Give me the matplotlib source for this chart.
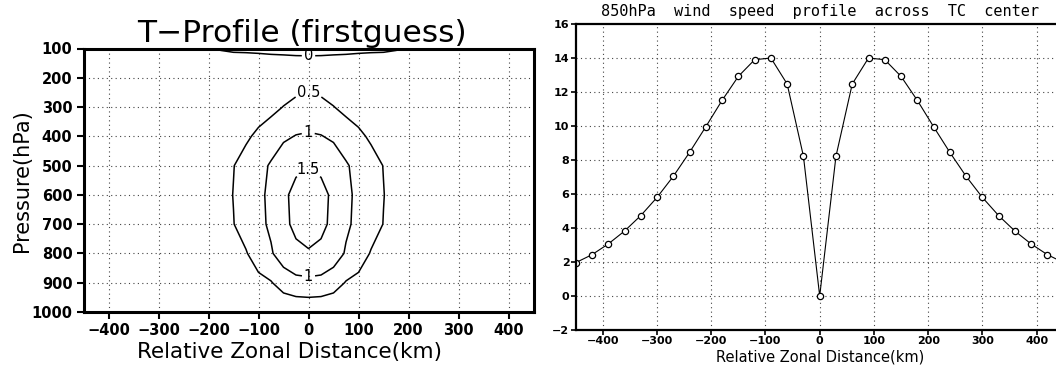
import numpy as np
import matplotlib.pyplot as plt

# --- temperature anomaly cross-section (first guess), symmetric about x=0 ---
half_dist = [0, 25, 50, 75, 100, 125, 150, 175, 200, 300, 450]   # km
levels_p = [100, 200, 300, 400, 500, 600, 700, 800, 900, 1000]   # hPa
t_x0 = [-0.10, 0.30, 0.70, 1.05, 1.47, 1.70, 1.65, 1.47, 0.88, 0.12]
t_x25 = [-0.09, 0.28, 0.62, 1.02, 1.42, 1.62, 1.58, 1.42, 0.85, 0.11]
t_x50 = [-0.07, 0.25, 0.51, 0.92, 1.30, 1.42, 1.42, 1.25, 0.72, 0.09]
t_x75 = [-0.05, 0.20, 0.40, 0.70, 1.06, 1.12, 1.08, 0.95, 0.47, 0.07]
t_x100 = [-0.03, 0.15, 0.32, 0.58, 0.82, 0.88, 0.88, 0.72, 0.38, 0.05]
t_x125 = [-0.02, 0.12, 0.25, 0.44, 0.65, 0.70, 0.68, 0.47, 0.25, 0.04]
t_x150 = [-0.015, 0.10, 0.20, 0.33, 0.49, 0.51, 0.49, 0.38, 0.18, 0.03]
t_x175 = [-0.005, 0.07, 0.15, 0.24, 0.33, 0.36, 0.34, 0.26, 0.13, 0.025]
t_x200 = [0.003, 0.05, 0.12, 0.18, 0.22, 0.24, 0.22, 0.16, 0.08, 0.02]
t_x300 = [0.01, 0.02, 0.04, 0.06, 0.07, 0.07, 0.07, 0.05, 0.03, 0.01]
t_x450 = [0.005, 0.01, 0.02, 0.02, 0.03, 0.03, 0.03, 0.02, 0.01, 0.005]
contour_levels = [0, 0.5, 1, 1.5]

# --- 850 hPa wind speed across the TC center ---
dist = [-450, -420, -390, -360, -330, -300, -270, -240, -210, -180, -150,
        -120, -90, -60, -30, 0, 30, 60, 90, 120, 150, 180, 210, 240, 270,
        300, 330, 360, 390, 420, 450]
wspd = [1.96, 2.43, 3.06, 3.82, 4.73, 5.80, 7.04, 8.45, 9.96, 11.51, 12.92,
        13.90, 14.00, 12.47, 8.22, 0.0, 8.22, 12.47, 14.00, 13.90, 12.92,
        11.51, 9.96, 8.45, 7.04, 5.80, 4.73, 3.82, 3.06, 2.43, 1.96]

xticks = [-400, -300, -200, -100, 0, 100, 200, 300, 400]
wticks = list(range(-2, 17, 2))


def minus(vals):
    return [str(v).replace('-', '\u2212') for v in vals]


# build full grid by mirroring the half section
half = np.array([t_x0, t_x25, t_x50, t_x75, t_x100, t_x125, t_x150,
                 t_x175, t_x200, t_x300, t_x450]).T
xs = np.array(half_dist)
xgrid = np.concatenate([-xs[:0:-1], xs])
tgrid = np.concatenate([half[:, :0:-1], half], axis=1)

dot_grid = dict(color='#444444', linestyle=(0, (1, 3)), linewidth=0.8)

fig = plt.figure(figsize=(10.56, 3.65), dpi=100)

# ---------------- left: T-profile ----------------
ax1 = fig.add_axes([83.5 / 1056, 1 - 312 / 365, 450 / 1056, 263.5 / 365])
cs = ax1.contour(xgrid, levels_p, tgrid, levels=contour_levels,
                 colors='k', linewidths=1.1)
ax1.clabel(cs, fmt=lambda v: f"{v:g}", fontsize=10.5, inline=True,
           inline_spacing=2,
           manual=[(0, 125), (0, 250), (0, 390), (0, 513), (0, 880)])
ax1.set_xlim(-450, 450)
ax1.set_ylim(1000, 100)
ax1.set_xticks(xticks)
ax1.set_xticklabels(minus(xticks))
ax1.set_yticks(levels_p)
for v in xticks:
    ax1.axvline(v, **dot_grid, zorder=0)
for p in levels_p[1:-1]:
    ax1.axhline(p, **dot_grid, zorder=0)
for s in ax1.spines.values():
    s.set_linewidth(2.2)
ax1.tick_params(direction='out', length=5, width=1.5, pad=3, labelsize=10.5)
for lab in ax1.get_xticklabels() + ax1.get_yticklabels():
    lab.set_fontweight('bold')
ax1.set_title('T\u2212Profile (firstguess)', fontsize=22.5, x=0.486, pad=4)
ax1.set_xlabel('Relative Zonal Distance(km)', fontsize=15.5, va='center')
ax1.xaxis.set_label_coords(0.457, -0.15)
ax1.set_ylabel('Pressure(hPa)', fontsize=15, va='center')
ax1.yaxis.set_label_coords(-0.137, 0.5)

# ---------------- right: wind speed profile ----------------
ax2 = fig.add_axes([575.7 / 1056, 1 - 330 / 365, 488 / 1056, 306 / 365])
ax2.plot(dist, wspd, '-', color='k', linewidth=0.8, marker='o',
         markersize=4.5, markerfacecolor='white', markeredgecolor='k',
         markeredgewidth=0.9)
ax2.set_xlim(-450, 450)
ax2.set_ylim(-2, 16)
ax2.set_xticks(xticks)
ax2.set_xticklabels(minus(xticks))
ax2.set_yticks(wticks)
ax2.set_yticklabels(minus(wticks))
for v in xticks:
    ax2.axvline(v, **dot_grid, zorder=0)
for w in wticks[1:-1]:
    ax2.axhline(w, **dot_grid, zorder=0)
for s in ax2.spines.values():
    s.set_linewidth(1.6)
ax2.tick_params(direction='out', length=3.5, width=1.2, pad=1, labelsize=8)
for lab in ax2.get_xticklabels() + ax2.get_yticklabels():
    lab.set_fontweight('bold')
ax2.set_title('850hPa  wind  speed  profile  across  TC  center',
              fontsize=11, family='DejaVu Sans Mono', pad=6)
ax2.set_xlabel('Relative Zonal Distance(km)', fontsize=10.5, va='center')
ax2.xaxis.set_label_coords(0.5, -0.087)

fig.savefig('out.png', dpi=100)
